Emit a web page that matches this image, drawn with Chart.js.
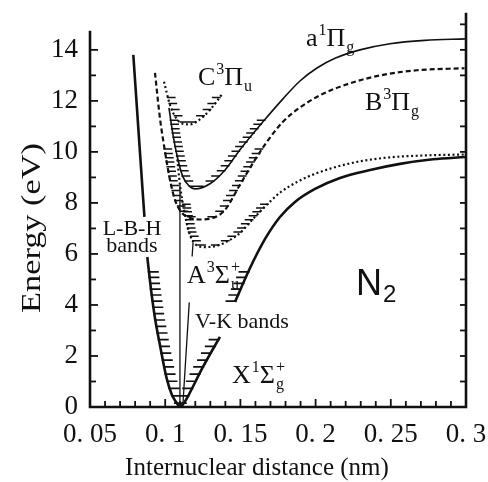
<!DOCTYPE html>
<html>
<head>
<meta charset="utf-8">
<script src="https://cdn.jsdelivr.net/npm/chart.js@4/dist/chart.umd.min.js"></script>
<style>
  html, body { margin: 0; padding: 0; background: #fff; }
  #wrap { width: 488px; height: 482px; }
</style>
</head>
<body>
<div id="wrap"><canvas id="c" width="488" height="482"></canvas></div>
<script>
// N2 potential energy curves — internuclear distance r (nm) against energy (eV)

const xTickValues = [0.05, 0.1, 0.15, 0.2, 0.25, 0.3];
const xTickLabels = ['0. 05', '0. 1', '0. 15', '0. 2', '0. 25', '0. 3'];
const yTickValues = [0, 2, 4, 6, 8, 10, 12, 14];
const yTickLabels = ['0', '2', '4', '6', '8', '10', '12', '14'];

// X 1Σg+ ground state, in three pieces (open where the band labels sit)
const groundWallTop = [[0.0788, 13.80], [0.0822, 10.86], [0.0854, 8.12], [0.0862, 7.45]];
const groundWell = [[0.0881, 5.88], [0.0906, 4.59], [0.0932, 3.49], [0.0965, 2.43], [0.1009, 1.14],
  [0.1045, 0.47], [0.1072, 0.20], [0.1098, 0.0], [0.1125, 0.16], [0.1152, 0.43], [0.1251, 1.57], [0.1364, 2.75]];
const groundOuter = [[0.1464, 4.12], [0.1564, 5.45], [0.1664, 6.59], [0.1763, 7.45], [0.1863, 8.04],
  [0.1996, 8.55], [0.2162, 8.98], [0.2362, 9.29], [0.2561, 9.53], [0.2781, 9.71], [0.2993, 9.80]];
const groundLevels = [0.15, 0.44, 0.73, 1.01, 1.29, 1.57, 1.84, 2.11, 2.38, 2.64, 2.90,
  3.16, 3.41, 3.66, 3.91, 4.15, 4.39, 4.62, 4.85, 5.08, 5.30];

// A 3Σu+
const stateA = [[0.1078, 9.88], [0.1098, 8.71], [0.1125, 7.73], [0.1158, 6.86], [0.1198, 6.39], [0.1265, 6.27],
  [0.1338, 6.31], [0.1418, 6.51], [0.1497, 6.82], [0.1577, 7.33], [0.1664, 7.86], [0.1763, 8.40],
  [0.1896, 8.88], [0.2009, 9.17], [0.2229, 9.55], [0.2448, 9.76], [0.2674, 9.85], [0.2993, 9.90]];
const levelsA = [6.35, 6.52, 6.69, 6.86, 7.02, 7.18, 7.34, 7.50, 7.65, 7.80, 7.95];

// B 3Πg
const stateB = [[0.0932, 13.10], [0.0965, 11.33], [0.0999, 10.0], [0.1032, 8.90], [0.1065, 8.12], [0.1105, 7.65],
  [0.1165, 7.41], [0.1231, 7.35], [0.1318, 7.41], [0.1398, 7.73], [0.1497, 8.71], [0.1597, 9.69],
  [0.1677, 10.40], [0.1783, 11.18], [0.1896, 11.74], [0.2029, 12.22], [0.2229, 12.69], [0.2448, 13.02],
  [0.2672, 13.20], [0.2990, 13.28]];
const levelsB = [7.46, 7.67, 7.88, 8.09, 8.29, 8.49, 8.68, 8.87, 9.06, 9.24, 9.42, 9.60, 9.77, 9.94, 10.11];

// a 1Πg
const stateLowA = [[0.1025, 11.73], [0.1052, 10.67], [0.1085, 9.69], [0.1118, 9.02], [0.1158, 8.67], [0.1198, 8.55],
  [0.1298, 8.75], [0.1398, 9.29], [0.1497, 10.08], [0.1650, 11.18], [0.1783, 12.08], [0.1896, 12.78],
  [0.2009, 13.29], [0.2129, 13.67], [0.2295, 14.00], [0.2495, 14.24], [0.2727, 14.37], [0.2993, 14.43]];
const levelsLowA = [8.65, 8.86, 9.06, 9.26, 9.46, 9.65, 9.84, 10.03, 10.21, 10.39, 10.57, 10.74, 10.91, 11.08, 11.24];

// C 3Πu
const stateC = [[0.0992, 12.75], [0.1032, 11.84], [0.1072, 11.33], [0.1118, 11.10], [0.1165, 11.08],
  [0.1218, 11.22], [0.1298, 11.65], [0.1384, 12.31]];
const levelsC = [11.17, 11.42, 11.66, 11.90, 12.13];

// Band transitions: Lyman-Birge-Hopfield (a -> X) and Vegard-Kaplan (A -> X)
const lbhLine = [[0.1098, 8.75], [0.1098, 0.0]];
const vkUpper = [[0.1185, 6.43], [0.1179, 5.90]];
const vkLower = [[0.1160, 4.10], [0.1118, 0.12]];

const toXY = pts => pts.map(p => ({ x: p[0], y: p[1] }));

// Short horizontal marks for the vibrational levels, starting on the curve and pointing into the well
function levelMarks(segments, levels, len) {
  const out = [];
  segments.forEach(seg => {
    for (let i = 0; i < seg.length - 1; i++) {
      const [r1, e1] = seg[i], [r2, e2] = seg[i + 1];
      if (e1 === e2) continue;
      levels.forEach(e => {
        const inside = e2 < e1 ? (e <= e1 && e > e2) : (e >= e1 && e < e2);
        if (!inside) return;
        const r = r1 + (e - e1) / (e2 - e1) * (r2 - r1);
        const dir = e2 < e1 ? 1 : -1;
        out.push({ x: r - dir * 0.0008, y: e }, { x: r + dir * len, y: e }, { x: r + dir * len, y: null });
      });
    }
  });
  return out;
}

const curve = (pts, width, dash) => ({
  data: toXY(pts), borderColor: '#111', borderWidth: width, borderDash: dash || [],
  pointRadius: 0, cubicInterpolationMode: 'monotone', fill: false, spanGaps: false
});
const marks = (pts, width) => ({
  data: pts, borderColor: '#111', borderWidth: width, pointRadius: 0, tension: 0, fill: false, spanGaps: false
});
const straight = (pts, width) => ({
  data: toXY(pts), borderColor: '#111', borderWidth: width, pointRadius: 0, tension: 0, fill: false
});

const datasets = [
  curve(groundWallTop, 2.6), curve(groundWell, 2.6), curve(groundOuter, 2.6),
  curve(stateA, 2.2, [2, 2.6]),
  curve(stateB, 2.2, [5, 3]),
  curve(stateLowA, 1.6),
  curve(stateC, 2.2, [2, 2.6]),
  straight(lbhLine, 1.3), straight(vkUpper, 1.3), straight(vkLower, 1.3),
  marks(levelMarks([groundWallTop, groundWell, groundOuter], groundLevels, 0.0065), 1.7),
  marks(levelMarks([stateA], levelsA, 0.005), 1.5),
  marks(levelMarks([stateB], levelsB, 0.005), 1.5),
  marks(levelMarks([stateLowA], levelsLowA, 0.005), 1.5),
  marks(levelMarks([stateC], levelsC, 0.005), 1.5)
];

const SERIF = '"Liberation Serif", "Times New Roman", serif';

// Text with super/subscripts; a run of kind 'pair' stacks a subscript under a superscript
function richText(ctx, x, y, runs, size) {
  let cx = x;
  ctx.textAlign = 'left';
  ctx.textBaseline = 'alphabetic';
  runs.forEach(run => {
    const [t, kind, t2] = run;
    if (!kind) {
      ctx.font = size + 'px ' + SERIF;
      ctx.fillText(t, cx, y);
      cx += ctx.measureText(t).width;
    } else {
      const s = Math.round(size * 0.6);
      ctx.font = s + 'px ' + SERIF;
      if (kind === 'sup') {
        ctx.fillText(t, cx + 1, y - size * 0.42);
        cx += ctx.measureText(t).width + 1;
      } else if (kind === 'sub') {
        ctx.fillText(t, cx + 1, y + size * 0.24);
        cx += ctx.measureText(t).width + 1;
      } else {
        ctx.fillText(t2, cx + 1, y - size * 0.42);
        ctx.fillText(t, cx + 1, y + size * 0.24);
        cx += Math.max(ctx.measureText(t).width, ctx.measureText(t2).width) + 1;
      }
    }
  });
}

const STATE_SIZE = 26;
const stateLabels = [
  { r: 0.1936, e: 14.16, runs: [['a'], ['1', 'sup'], ['Π'], ['g', 'sub']] },
  { r: 0.2328, e: 11.65, runs: [['B'], ['3', 'sup'], ['Π'], ['g', 'sub']] },
  { r: 0.1218, e: 12.63, runs: [['C'], ['3', 'sup'], ['Π'], ['u', 'sub']] },
  { r: 0.1145, e: 4.86, runs: [['A'], ['3', 'sup'], ['Σ'], ['u', 'pair', '+']] },
  { r: 0.1444, e: 0.94, runs: [['X'], ['1', 'sup'], ['Σ'], ['g', 'pair', '+']] }
];

const annotations = {
  id: 'annotations',
  afterDraw(chart) {
    const { ctx, scales: { x, y } } = chart;
    ctx.save();
    ctx.fillStyle = '#111';
    stateLabels.forEach(l => richText(ctx, x.getPixelForValue(l.r), y.getPixelForValue(l.e), l.runs, STATE_SIZE));

    ctx.font = '22px ' + SERIF;
    ctx.textAlign = 'center';
    ctx.textBaseline = 'alphabetic';
    ctx.fillText('L-B-H', x.getPixelForValue(0.0779), y.getPixelForValue(6.75));
    ctx.fillText('bands', x.getPixelForValue(0.0779), y.getPixelForValue(6.08));
    ctx.textAlign = 'left';
    ctx.fillText('V-K bands', x.getPixelForValue(0.1198), y.getPixelForValue(3.10));

    // molecule name
    const nx = x.getPixelForValue(0.2269), ny = y.getPixelForValue(4.39);
    ctx.font = '36px "Liberation Sans", Arial, sans-serif';
    ctx.fillText('N', nx, ny);
    const nw = ctx.measureText('N').width;
    ctx.font = '24px "Liberation Sans", Arial, sans-serif';
    ctx.fillText('2', nx + nw + 1, ny + 7);

    // axis titles
    ctx.font = '25px ' + SERIF;
    ctx.textAlign = 'center';
    ctx.fillText('Internuclear distance (nm)', 257, 475);

    ctx.translate(33, 228);
    ctx.rotate(-Math.PI / 2);
    ctx.font = '27px ' + SERIF;
    const tw = ctx.measureText('Energy (eV)').width;
    ctx.scale(170 / tw, 1);
    ctx.textBaseline = 'middle';
    ctx.fillText('Energy (eV)', 0, 0);
    ctx.restore();
  }
};

// Axis lines with inward-pointing ticks (left, bottom and right sides)
const frame = {
  id: 'frame',
  afterDatasetsDraw(chart) {
    const { ctx, scales: { x, y } } = chart;
    const left = x.getPixelForValue(0.05), right = x.getPixelForValue(0.3);
    const bottom = y.getPixelForValue(0), top = y.getPixelForValue(14.7), rightTop = y.getPixelForValue(15.4);
    const seg = (a, b, c, d) => { ctx.beginPath(); ctx.moveTo(a, b); ctx.lineTo(c, d); ctx.stroke(); };
    ctx.save();
    ctx.strokeStyle = '#111';
    ctx.lineWidth = 2.6;
    ctx.lineCap = 'square';
    ctx.beginPath();
    ctx.moveTo(left, top); ctx.lineTo(left, bottom); ctx.lineTo(right, bottom); ctx.lineTo(right, rightTop);
    ctx.stroke();
    ctx.lineCap = 'butt';
    ctx.lineWidth = 1.8;
    for (let i = 1; i < 25; i++) {
      const px = x.getPixelForValue(0.05 + i * 0.01);
      seg(px, bottom, px, bottom - (i % 5 === 0 ? 8 : 6));
    }
    for (let e = 1; e <= 14; e++) {
      const py = y.getPixelForValue(e);
      seg(left, py, left + (e % 2 === 0 ? 8 : 6), py);
    }
    for (let e = 1; e <= 15; e++) {
      const py = y.getPixelForValue(e);
      seg(right, py, right - 6, py);
    }
    ctx.restore();
  }
};

const noEdgePadding = s => { s.paddingLeft = 0; s.paddingRight = 0; s.paddingTop = 0; s.paddingBottom = 0; };

new Chart(document.getElementById('c'), {
  type: 'line',
  data: { datasets },
  options: {
    responsive: false,
    animation: false,
    events: [],
    layout: { padding: { left: 0, right: 22, top: 32, bottom: 0 } },
    plugins: { legend: { display: false }, tooltip: { enabled: false } },
    scales: {
      x: {
        type: 'linear', min: 0.05, max: 0.3,
        afterBuildTicks: s => { s.ticks = xTickValues.map(v => ({ value: v })); },
        afterFit: s => { s.height = 75; noEdgePadding(s); },
        grid: { display: false, drawTicks: false },
        border: { display: false },
        ticks: {
          autoSkip: false, maxRotation: 0, padding: 12, color: '#111',
          font: { family: SERIF, size: 27 },
          callback: (v, i) => xTickLabels[i]
        }
      },
      y: {
        type: 'linear', min: 0, max: 14.7,
        afterBuildTicks: s => { s.ticks = yTickValues.map(v => ({ value: v })); },
        afterFit: s => { s.width = 90; noEdgePadding(s); },
        grid: { display: false, drawTicks: false },
        border: { display: false },
        ticks: {
          autoSkip: false, padding: 12, color: '#111',
          font: { family: SERIF, size: 27 },
          callback: (v, i) => yTickLabels[i]
        }
      }
    }
  },
  plugins: [frame, annotations]
});
</script>
</body>
</html>
